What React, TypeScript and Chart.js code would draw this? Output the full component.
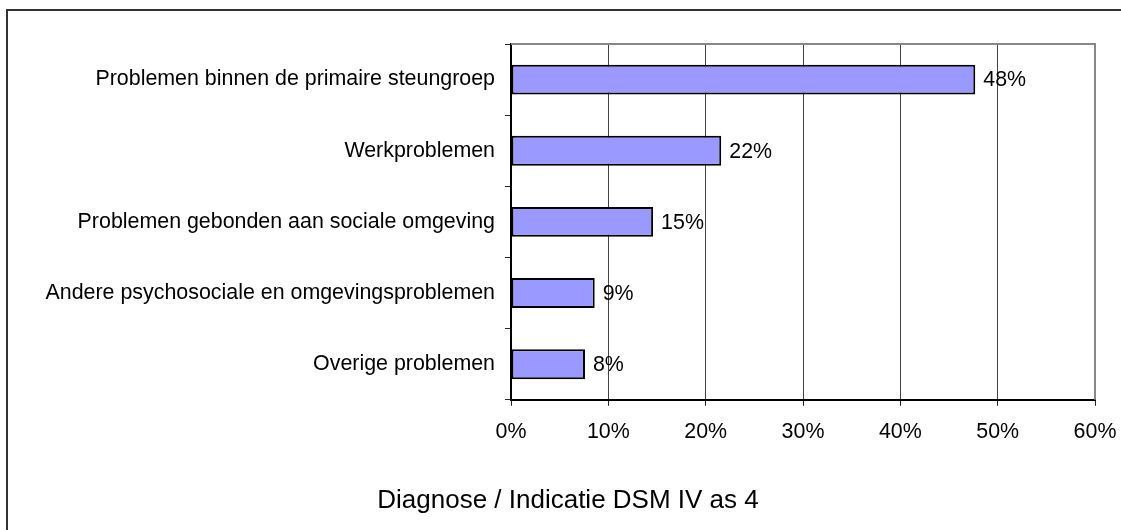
import React, { useEffect, useRef } from "react";
import { Chart, registerables } from "chart.js";

Chart.register(...registerables);

const categories = [
  "Problemen binnen de primaire steungroep",
  "Werkproblemen",
  "Problemen gebonden aan sociale omgeving",
  "Andere psychosociale en omgevingsproblemen",
  "Overige problemen",
];
const values = [47.7, 21.6, 14.6, 8.6, 7.6];
const valueLabels = ["48%", "22%", "15%", "9%", "8%"];
const xTicks = [0, 10, 20, 30, 40, 50, 60];
const titleText = "Diagnose / Indicatie DSM IV as 4";

const FONT = '"Liberation Sans", Arial, Helvetica, sans-serif';
const FS = 21.4;

export default function App() {
  const ref = useRef<HTMLCanvasElement | null>(null);

  useEffect(() => {
    if (!ref.current) return;

    const barLabels = {
      id: "barLabels",
      afterDatasetsDraw(chart: any) {
        const ctx = chart.ctx;
        const meta = chart.getDatasetMeta(0);
        ctx.save();
        ctx.font = `${FS}px ${FONT}`;
        ctx.fillStyle = "#000";
        ctx.textAlign = "left";
        ctx.textBaseline = "middle";
        meta.data.forEach((el: any, i: number) => {
          ctx.fillText(valueLabels[i], el.x + 8, el.y + 1);
        });
        ctx.restore();
      },
    };

    const frame = {
      id: "frame",
      afterDraw(chart: any) {
        const { ctx, chartArea } = chart;
        ctx.save();
        ctx.strokeStyle = "#888";
        ctx.lineWidth = 2;
        ctx.beginPath();
        ctx.moveTo(chartArea.left, chartArea.top);
        ctx.lineTo(chartArea.right, chartArea.top);
        ctx.lineTo(chartArea.right, chartArea.bottom);
        ctx.stroke();
        ctx.restore();
      },
    };

    const chart = new Chart(ref.current, {
      type: "bar",
      data: {
        labels: categories,
        datasets: [
          {
            data: values,
            backgroundColor: "#9999FF",
            borderColor: "#000",
            borderWidth: 2,
            borderSkipped: false,
            barPercentage: 0.42,
            categoryPercentage: 1,
          },
        ],
      },
      options: {
        indexAxis: "y",
        animation: false,
        responsive: false,
        maintainAspectRatio: false,
        layout: { padding: { left: 41, right: 26, top: 44, bottom: 0 } },
        plugins: {
          legend: { display: false },
          tooltip: { enabled: false },
          title: {
            display: true,
            text: titleText,
            position: "bottom",
            color: "#000",
            font: { family: FONT, size: 26, weight: "normal" },
            padding: { top: 15, bottom: 14 },
          },
        },
        scales: {
          x: {
            min: 0,
            max: 60,
            afterFit: (s: any) => {
              s.height = 70;
              s.paddingLeft = 0;
              s.paddingRight = 0;
            },
            afterBuildTicks: (s: any) => {
              s.ticks = xTicks.map((v) => ({ value: v }));
            },
            ticks: {
              callback: (v: any) => `${v}%`,
              color: "#000",
              font: { family: FONT, size: FS },
              padding: 13,
              maxRotation: 0,
            },
            grid: {
              color: "#444",
              lineWidth: 1,
              tickLength: 6,
              tickColor: "#222",
              drawTicks: true,
            },
            border: { color: "#000", width: 2 },
          },
          y: {
            afterFit: (s: any) => {
              s.width = 470;
              s.paddingTop = 0;
              s.paddingBottom = 0;
            },
            ticks: {
              color: "#000",
              font: { family: FONT, size: FS },
              padding: 10,
            },
            grid: {
              offset: true,
              drawOnChartArea: false,
              drawTicks: true,
              tickLength: 6,
              tickColor: "#222",
            },
            border: { color: "#000", width: 2 },
          },
        },
      },
      plugins: [barLabels, frame],
    });

    return () => chart.destroy();
  }, []);

  return (
    <div
      style={{
        position: "fixed",
        left: 0,
        top: 0,
        width: 1121,
        height: 530,
        overflow: "hidden",
        background: "#fff",
      }}
    >
      <div
        style={{
          position: "absolute",
          left: 6,
          top: 9,
          width: 2000,
          height: 2000,
          borderLeft: "2px solid #333",
          borderTop: "2px solid #333",
        }}
      />
      <canvas
        ref={ref}
        width={1121}
        height={530}
        style={{ position: "absolute", left: 0, top: 0, width: 1121, height: 530 }}
      />
    </div>
  );
}
